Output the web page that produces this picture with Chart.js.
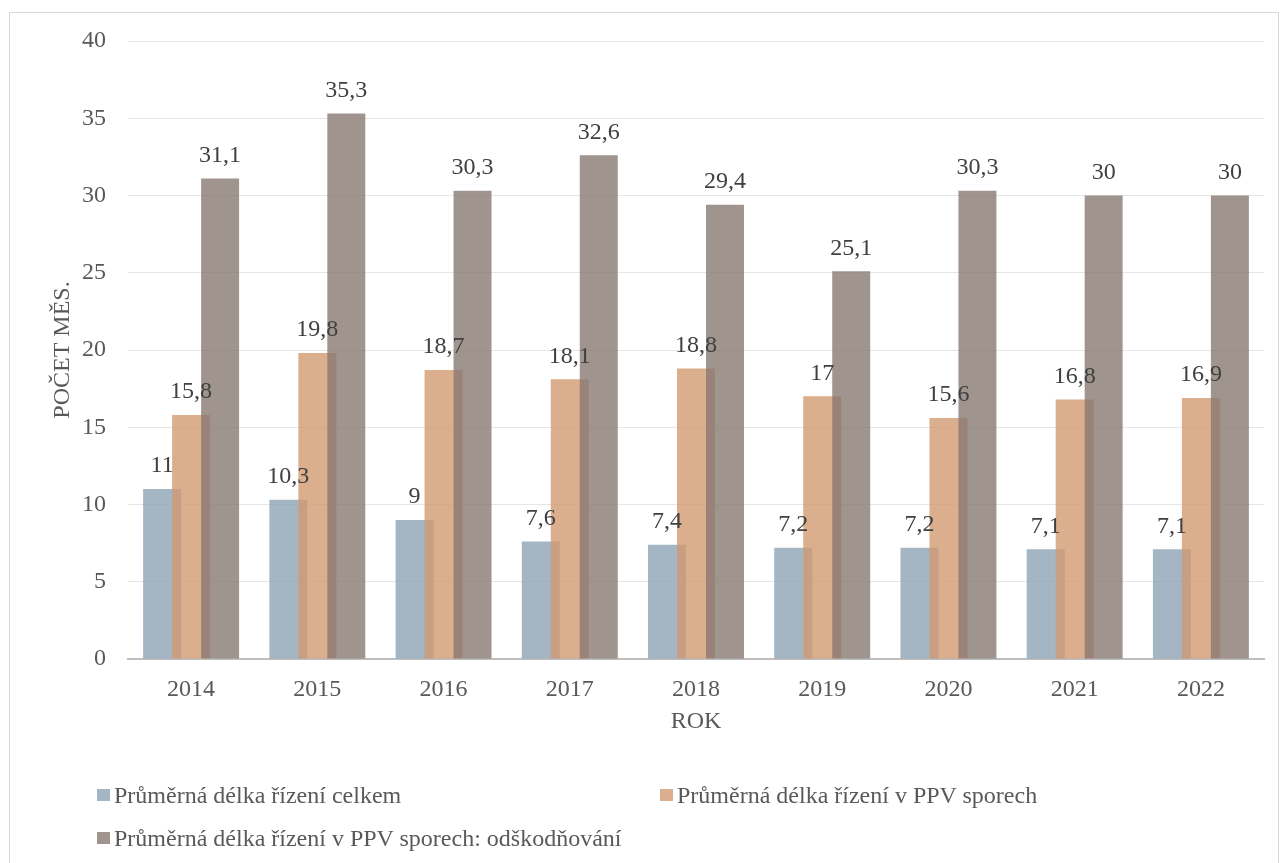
<!DOCTYPE html>
<html lang="cs">
<head>
<meta charset="utf-8">
<script src="https://cdn.jsdelivr.net/npm/chart.js@4.4.0/dist/chart.umd.min.js"></script>
<style>
  html, body { margin: 0; padding: 0; background: #fff; }
  body { width: 1282px; height: 863px; position: relative; overflow: hidden; font-family: "Liberation Serif", serif; }
  #frame { position: absolute; left: 9px; top: 12px; width: 1270px; height: 870px; border: 1px solid #d9d9d9; box-sizing: border-box; }
  #wrap { position: absolute; left: 0; top: 0; width: 1282px; height: 863px; }
  .leg { position: absolute; font-size: 24px; color: #595959; white-space: nowrap; line-height: 28px; }
  .leg .sw { position: absolute; width: 13px; height: 12px; top: 8px; }
</style>
</head>
<body>
<div id="frame"></div>
<div id="wrap"><canvas id="c" width="1282" height="863"></canvas></div>
<div id="legend"></div>
<script>
const years = ["2014", "2015", "2016", "2017", "2018", "2019", "2020", "2021", "2022"];
const seriesNames = [
  "Průměrná délka řízení celkem",
  "Průměrná délka řízení v PPV sporech",
  "Průměrná délka řízení v PPV sporech: odškodňování"
];
const celkem = [11, 10.3, 9, 7.6, 7.4, 7.2, 7.2, 7.1, 7.1];
const ppv = [15.8, 19.8, 18.7, 18.1, 18.8, 17, 15.6, 16.8, 16.9];
const odskodnovani = [31.1, 35.3, 30.3, 32.6, 29.4, 25.1, 30.3, 30, 30];
const yTicks = [0, 5, 10, 15, 20, 25, 30, 35, 40];

const colors = ["rgba(141,163,181,0.8)", "rgba(210,154,114,0.8)", "rgba(136,121,115,0.8)"];
const swatch = ["#a4b5c4", "#dbae8e", "#a0948f"];
const FONT = "'Liberation Serif', serif";

const fmt = v => String(v).replace('.', ',');

// draw datasets in forward order so later series sit on top of earlier ones
const forwardDraw = {
  id: 'forwardDraw',
  beforeDatasetsDraw(chart) {
    const metas = chart.getSortedVisibleDatasetMetas();
    for (let i = 0; i < metas.length; i++) {
      if (typeof chart._drawDataset === 'function') chart._drawDataset(metas[i]);
      else metas[i].controller.draw();
    }
    return false;
  }
};

const valueLabels = {
  id: 'valueLabels',
  afterDraw(chart) {
    const ctx = chart.ctx;
    ctx.save();
    ctx.font = "24px " + FONT;
    ctx.fillStyle = "#404040";
    ctx.textAlign = "center";
    ctx.textBaseline = "middle";
    chart.data.datasets.forEach((ds, di) => {
      const meta = chart.getDatasetMeta(di);
      meta.data.forEach((bar, i) => {
        ctx.fillText(fmt(ds.data[i]), bar.x, bar.y - 23);
      });
    });
    ctx.restore();
  }
};

const datasets = [celkem, ppv, odskodnovani].map((d, i) => ({
  label: seriesNames[i],
  data: d,
  backgroundColor: colors[i],
  borderWidth: 0,
  categoryPercentage: 0.689,
  barPercentage: 1.31
}));

new Chart(document.getElementById('c'), {
  type: 'bar',
  data: { labels: years, datasets },
  options: {
    responsive: false,
    animation: false,
    events: [],
    layout: { padding: { left: 44, right: 18, top: 41, bottom: 123 } },
    plugins: { legend: { display: false }, tooltip: { enabled: false } },
    scales: {
      x: {
        grid: { display: false, drawTicks: false },
        border: { display: true, color: "#bfbfbf", width: 2 },
        ticks: { color: "#595959", font: { family: FONT, size: 24 }, padding: 16, maxRotation: 0 },
        title: { display: true, text: "ROK", color: "#595959", font: { family: FONT, size: 24 } },
        afterFit(s) { s.height = 81; }
      },
      y: {
        min: 0, max: 40,
        afterBuildTicks(s) { s.ticks = yTicks.map(v => ({ value: v })); },
        grid: { color: "#e6e6e6", lineWidth: 1, drawTicks: false },
        border: { display: false },
        ticks: { color: "#595959", font: { family: FONT, size: 24 }, padding: 22 },
        title: { display: true, text: "POČET MĚS.", color: "#595959", font: { family: FONT, size: 24 } },
        afterFit(s) { s.width = 84; }
      }
    }
  },
  plugins: [forwardDraw, valueLabels]
});

// legend (HTML, real text)
const legendPos = [
  { x: 97, y: 795 },
  { x: 660, y: 795 },
  { x: 97, y: 838 }
];
const legendEl = document.getElementById('legend');
seriesNames.forEach((name, i) => {
  const item = document.createElement('div');
  item.className = 'leg';
  item.style.left = legendPos[i].x + 'px';
  item.style.top = (legendPos[i].y - 14) + 'px';
  item.style.paddingLeft = '17px';
  const sw = document.createElement('span');
  sw.className = 'sw';
  sw.style.left = '0px';
  sw.style.background = swatch[i];
  item.appendChild(sw);
  item.appendChild(document.createTextNode(name));
  legendEl.appendChild(item);
});
</script>
</body>
</html>
